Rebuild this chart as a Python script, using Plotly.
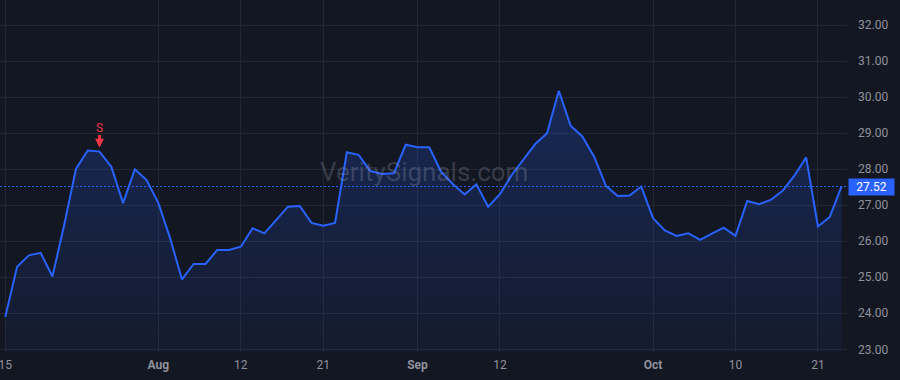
import plotly.graph_objects as go

dates = [
    "2024-07-15", "2024-07-16", "2024-07-17", "2024-07-18", "2024-07-19",
    "2024-07-22", "2024-07-23", "2024-07-24", "2024-07-25", "2024-07-26",
    "2024-07-29", "2024-07-30", "2024-07-31",
    "2024-08-01", "2024-08-02", "2024-08-05", "2024-08-06", "2024-08-07",
    "2024-08-08", "2024-08-09", "2024-08-12", "2024-08-13", "2024-08-14",
    "2024-08-15", "2024-08-16", "2024-08-19", "2024-08-20", "2024-08-21",
    "2024-08-22", "2024-08-23", "2024-08-26", "2024-08-27", "2024-08-28",
    "2024-08-29", "2024-08-30",
    "2024-09-03", "2024-09-04", "2024-09-05", "2024-09-06", "2024-09-09",
    "2024-09-10", "2024-09-11", "2024-09-12", "2024-09-13", "2024-09-16",
    "2024-09-17", "2024-09-18", "2024-09-19", "2024-09-20", "2024-09-23",
    "2024-09-24", "2024-09-25", "2024-09-26", "2024-09-27", "2024-09-30",
    "2024-10-01", "2024-10-02", "2024-10-03", "2024-10-04", "2024-10-07",
    "2024-10-08", "2024-10-09", "2024-10-10", "2024-10-11", "2024-10-14",
    "2024-10-15", "2024-10-16", "2024-10-17", "2024-10-18", "2024-10-21",
    "2024-10-22", "2024-10-23",
]

prices = [
    23.90, 25.29, 25.61, 25.68, 25.02, 26.45, 28.01, 28.52, 28.49, 28.07,
    27.06, 28.00, 27.70, 27.06, 26.08, 24.94, 25.37, 25.37, 25.76, 25.76,
    25.85, 26.36, 26.22, 26.59, 26.96, 26.98, 26.51, 26.43, 26.51, 28.47,
    28.40, 27.95, 27.87, 27.89, 28.68, 28.61, 28.61, 27.93, 27.59, 27.30,
    27.58, 26.96, 27.31, 27.84, 28.26, 28.70, 29.00, 30.18, 29.21, 28.91,
    28.35, 27.54, 27.26, 27.27, 27.52, 26.64, 26.30, 26.15, 26.22, 26.04,
    26.21, 26.38, 26.15, 27.12, 27.03, 27.15, 27.40, 27.82, 28.33, 26.41,
    26.67, 27.52,
]

tick_dates = ["2024-07-15", "2024-08-01", "2024-08-12", "2024-08-21",
              "2024-09-03", "2024-09-12", "2024-10-01", "2024-10-10", "2024-10-21"]
tick_labels = ["15", "<b>Aug</b>", "12", "21", "<b>Sep</b>", "12", "<b>Oct</b>", "10", "21"]

y_ticks = [23, 24, 25, 26, 27, 28, 29, 30, 31, 32]

signal_dates = ["2024-07-25"]
signal_labels = ["S"]

last_price = prices[-1]

BG = "#131722"
GRID = "#232733"
BLUE = "#2962FF"
RED = "#F23645"
TXT = "#8f929b"

fig = go.Figure()
fig.add_trace(go.Scatter(
    x=dates, y=prices, mode="lines",
    line=dict(color=BLUE, width=2),
    fill="tozeroy",
    fillgradient=dict(type="vertical",
                      colorscale=[[0, "rgba(41,98,255,0.05)"], [1, "rgba(41,98,255,0.24)"]],
                      start=22.9, stop=30.2),
    hoverinfo="skip", showlegend=False,
))

sig_y = [prices[dates.index(d)] for d in signal_dates]

annotations = []
for d, v, lab in zip(signal_dates, sig_y, signal_labels):
    annotations.append(dict(x=d, y=v, xref="x", yref="y", text=lab, showarrow=True,
                            ax=0, ay=-24, arrowhead=2, arrowsize=0.55, arrowwidth=3.2,
                            arrowcolor=RED, standoff=4, borderpad=0,
                            font=dict(color=RED, size=12, family="Roboto")))

annotations.append(dict(x=0.5, y=0.51, xref="paper", yref="paper", text="VeritySignals.com",
                        showarrow=False, font=dict(size=26, color="rgba(150,155,170,0.28)",
                                                   family="Roboto")))
annotations.append(dict(x=1, y=last_price, xref="paper", yref="y", text=f"{last_price:.2f}",
                        showarrow=False, xanchor="left", xshift=1, bgcolor=BLUE, width=43,
                        height=14, borderpad=1,
                        font=dict(color="#ffffff", size=12, family="Roboto")))

fig.add_shape(type="line", xref="paper", x0=0, x1=1, yref="y", y0=last_price, y1=last_price,
              line=dict(color=BLUE, width=1, dash="2px,2px"))

fig.update_layout(
    width=900, height=380,
    margin=dict(l=0, r=53, t=0, b=28),
    paper_bgcolor=BG, plot_bgcolor=BG,
    font=dict(family="Roboto", color=TXT, size=12),
    annotations=annotations,
    xaxis=dict(type="category", range=[-0.45, 71.47], tickmode="array",
               tickvals=tick_dates, ticktext=tick_labels, showgrid=True,
               gridcolor=GRID, gridwidth=1, zeroline=False, showline=False,
               ticks="", tickfont=dict(size=12, color=TXT), ticklabelstandoff=4),
    yaxis=dict(range=[22.925, 32.70], side="right", tickmode="array",
               tickvals=y_ticks, tickformat=".2f", showgrid=True, gridcolor=GRID,
               gridwidth=1, zeroline=False, showline=False, ticks="",
               ticklabelstandoff=10, tickfont=dict(size=12, color=TXT)),
)

fig.write_html("out.html")
